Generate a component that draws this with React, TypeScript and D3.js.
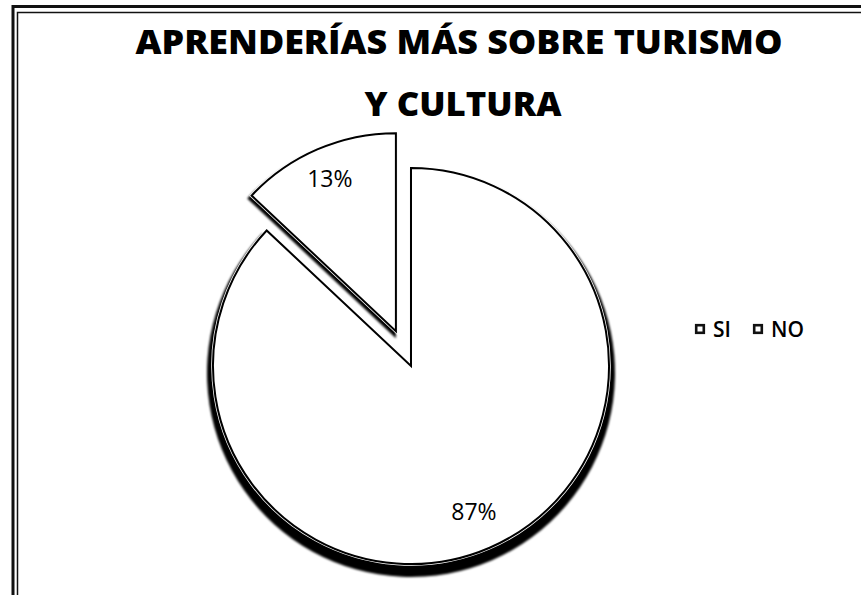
import React from "react";
import * as d3 from "d3";

const categories = ["SI", "NO"];
const values = [87, 13];
const valueLabels = ["87%", "13%"];
const explodeOffsets = [0, 38];
const titleLines = ["APRENDERÍAS MÁS SOBRE TURISMO", "Y CULTURA"];

const W = 861;
const H = 595;
const cx = 411;
const cy = 366;
const R = 198;

export default function App() {
  const pie = d3
    .pie<number>()
    .value((d) => d)
    .sort(null)
    .startAngle(0)
    .endAngle(2 * Math.PI);
  const arcs = pie(values);
  const arc = d3.arc<d3.PieArcDatum<number>>().innerRadius(0).outerRadius(R);
  const shadowArc = d3
    .arc<d3.PieArcDatum<number>>()
    .innerRadius(0)
    .outerRadius(R + 6);
  const labelR = [0.8, 0.84];

  return (
    <svg
      width={W}
      height={H}
      viewBox={`0 0 ${W} ${H}`}
      style={{ position: "absolute", left: 0, top: 0, background: "#fff" }}
    >
      <defs>
        <filter id="blur" x="-20%" y="-20%" width="140%" height="140%">
          <feGaussianBlur stdDeviation="0.8" />
        </filter>
      </defs>
      <rect x={0} y={0} width={W} height={H} fill="#fff" />
      {/* border */}
      <g fill="none" stroke="#111">
        <path d={`M13,${H} V6.5 H${W}`} strokeWidth={3} />
        <path d={`M17.5,${H} V12.5 H${W}`} strokeWidth={1.5} />
      </g>
      {/* title */}
      <g
        fontFamily="'Open Sans', 'Noto Sans', sans-serif"
        fontWeight={800}
        fontSize={34}
        fill="#000"
        textAnchor="middle"
      >
        <text x={459} y={54} textLength={647} lengthAdjust="spacingAndGlyphs">
          {titleLines[0]}
        </text>
        <text x={463} y={116} textLength={197} lengthAdjust="spacingAndGlyphs">
          {titleLines[1]}
        </text>
      </g>
      {/* pie */}
      {arcs.map((a, i) => {
        const mid = (a.startAngle + a.endAngle) / 2;
        const ox = Math.sin(mid) * explodeOffsets[i];
        const oy = -Math.cos(mid) * explodeOffsets[i];
        const lr = R * labelR[i];
        const lx = Math.sin(mid) * lr;
        const ly = -Math.cos(mid) * lr;
        return (
          <g key={categories[i]} transform={`translate(${cx + ox},${cy + oy})`}>
            <path
              d={shadowArc(a) || ""}
              transform="translate(0,7)"
              fill="#000"
              filter="url(#blur)"
            />
            <path d={arc(a) || ""} fill="#fff" stroke="#fff" strokeWidth={3.5} strokeLinejoin="miter" />
            <path d={arc(a) || ""} fill="#fff" stroke="#000" strokeWidth={2} strokeLinejoin="miter" />
            <text
              x={lx}
              y={ly}
              textAnchor="middle"
              dominantBaseline="central"
              fontFamily="'Open Sans', 'Noto Sans', sans-serif"
              fontSize={23}
              fill="#000"
            >
              {valueLabels[i]}
            </text>
          </g>
        );
      })}
      {/* legend */}
      <g fontFamily="'Open Sans', 'Noto Sans', sans-serif" fontSize={21} fontWeight={600} fill="#000">
        {categories.map((c, i) => {
          const x0 = 695 + i * 58;
          return (
            <g key={c}>
              <rect x={x0 + 1.2} y={325.2} width={7.6} height={7.6} fill="#fff" stroke="#111" strokeWidth={2.6} />
              <text x={x0 + 18} y={337}>
                {c}
              </text>
            </g>
          );
        })}
      </g>
    </svg>
  );
}
